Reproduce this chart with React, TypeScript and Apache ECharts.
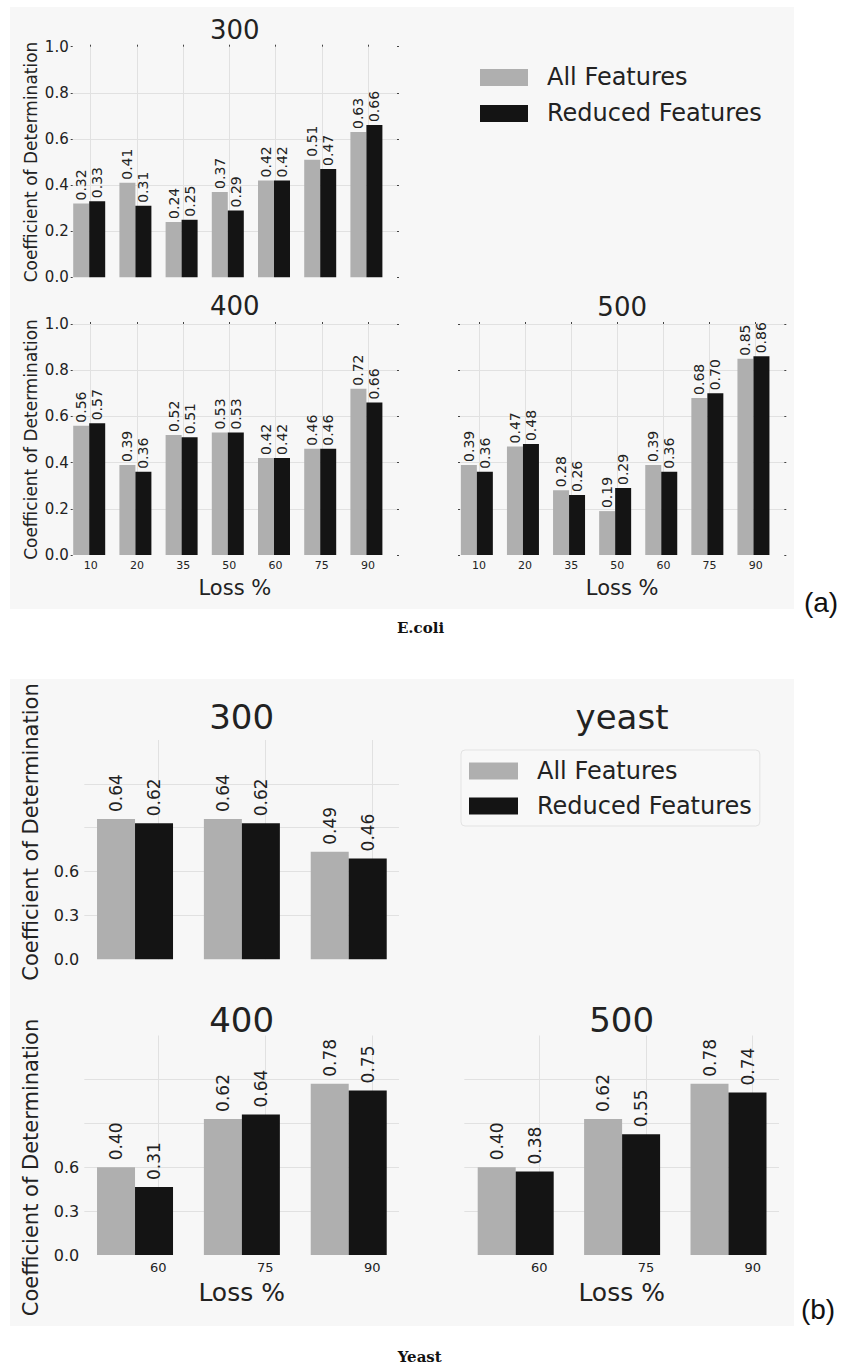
import React, { useEffect, useRef } from 'react';
import * as echarts from 'echarts';

// ---------- data ----------
const seriesNames = ['All Features', 'Reduced Features'];

const ecoliCategories = ['10', '20', '35', '50', '60', '75', '90'];
const ecoli300All = [0.32, 0.41, 0.24, 0.37, 0.42, 0.51, 0.63];
const ecoli300Reduced = [0.33, 0.31, 0.25, 0.29, 0.42, 0.47, 0.66];
const ecoli400All = [0.56, 0.39, 0.52, 0.53, 0.42, 0.46, 0.72];
const ecoli400Reduced = [0.57, 0.36, 0.51, 0.53, 0.42, 0.46, 0.66];
const ecoli500All = [0.39, 0.47, 0.28, 0.19, 0.39, 0.68, 0.85];
const ecoli500Reduced = [0.36, 0.48, 0.26, 0.29, 0.36, 0.7, 0.86];
const ecoliYTickLabels = ['0.0', '0.2', '0.4', '0.6', '0.8', '1.0'];

const yeastCategories = ['60', '75', '90'];
const yeast300All = [0.64, 0.64, 0.49];
const yeast300Reduced = [0.62, 0.62, 0.46];
const yeast400All = [0.4, 0.62, 0.78];
const yeast400Reduced = [0.31, 0.64, 0.75];
const yeast500All = [0.4, 0.62, 0.78];
const yeast500Reduced = [0.38, 0.55, 0.74];
const yeastYTickLabels = ['0.0', '0.3', '0.6'];

// ---------- styles ----------
const FONT = 'DejaVu Sans';
const TEXT = '#222222';
const GRAY = '#afafaf';
const BLACK = '#141414';
const GRID = '#e1e1e1';
const BG = '#f7f7f7';
const YNAME = 'Coefficient of Determination';

type Panel = {
  title: string;
  cats: string[];
  all: number[];
  reduced: number[];
  frame: [number, number, number, number]; // L, T, R, B
  tick: [number, number];
  barLeft: number;
  band: number;
  kind: 'ecoli' | 'yeast';
  yLabels: boolean;
  xLabels: boolean;
  yName: boolean;
  maxLine: boolean;
  titleY: number;
};

const panels: Panel[] = [
  { title: '300', cats: ecoliCategories, all: ecoli300All, reduced: ecoli300Reduced,
    frame: [72.7, 46.7, 397, 277.3], tick: [90.7, 368], barLeft: 66.1, band: 46.2,
    kind: 'ecoli', yLabels: true, xLabels: false, yName: true, maxLine: false, titleY: 30 },
  { title: '400', cats: ecoliCategories, all: ecoli400All, reduced: ecoli400Reduced,
    frame: [72.7, 324, 397, 555], tick: [90.7, 368], barLeft: 66.1, band: 46.2,
    kind: 'ecoli', yLabels: true, xLabels: true, yName: true, maxLine: true, titleY: 306 },
  { title: '500', cats: ecoliCategories, all: ecoli500All, reduced: ecoli500Reduced,
    frame: [460, 324, 784.3, 555], tick: [479, 755.7], barLeft: 453.8, band: 46.1,
    kind: 'ecoli', yLabels: false, xLabels: true, yName: false, maxLine: true, titleY: 306.5 },
  { title: '300', cats: yeastCategories, all: yeast300All, reduced: yeast300Reduced,
    frame: [84.3, 740, 399, 959.3], tick: [158.3, 372.3], barLeft: 81.6, band: 106.85,
    kind: 'yeast', yLabels: true, xLabels: false, yName: false, maxLine: false, titleY: 716.7 },
  { title: '400', cats: yeastCategories, all: yeast400All, reduced: yeast400Reduced,
    frame: [84.3, 1035.5, 399, 1255], tick: [158.3, 372.3], barLeft: 81.6, band: 106.85,
    kind: 'yeast', yLabels: true, xLabels: true, yName: false, maxLine: false, titleY: 1020 },
  { title: '500', cats: yeastCategories, all: yeast500All, reduced: yeast500Reduced,
    frame: [464.3, 1035.5, 779, 1255], tick: [539.3, 752.7], barLeft: 462.5, band: 106.4,
    kind: 'yeast', yLabels: false, xLabels: true, yName: false, maxLine: false, titleY: 1020 },
];

function buildOption() {
  const grid: any[] = [];
  const xAxis: any[] = [];
  const yAxis: any[] = [];
  const series: any[] = [];
  const title: any[] = [];

  panels.forEach((p) => {
    const [L, T, R, B] = p.frame;
    const ec = p.kind === 'ecoli';
    const tickLabels = ec ? ecoliYTickLabels : yeastYTickLabels;

    // frame grid: horizontal grid lines, y labels, axis names
    const gF = grid.length;
    grid.push({ left: L, top: T, width: R - L, height: B - T });
    xAxis.push({
      gridIndex: gF, type: 'value', min: 0, max: 1,
      axisLine: { show: false }, axisTick: { show: false }, axisLabel: { show: false },
      splitLine: { show: false },
      name: p.xLabels ? 'Loss %' : '', nameLocation: 'middle', nameGap: ec ? 22 : 25,
      nameTextStyle: { fontSize: ec ? 21 : 25, color: TEXT, fontFamily: FONT },
    });
    yAxis.push({
      gridIndex: gF, type: 'value', min: 0, max: 1, interval: 0.2,
      axisLine: { show: false },
      axisTick: { show: ec, length: 2, lineStyle: { color: '#444' } },
      axisLabel: {
        show: p.yLabels, fontSize: ec ? 15 : 16, color: TEXT, fontFamily: FONT, margin: ec ? 4 : 5,
        formatter: (_v: number, i: number) => tickLabels[i] ?? '',
      },
      splitLine: { show: true, showMinLine: false, showMaxLine: p.maxLine, lineStyle: { color: GRID, width: 1 } },
      name: p.yName ? YNAME : '', nameLocation: 'middle', nameGap: 33,
      nameTextStyle: { fontSize: 17, color: TEXT, fontFamily: FONT },
    });
    if (ec) {
      yAxis.push({
        gridIndex: gF, type: 'value', position: 'right', min: 0, max: 1, interval: 0.2,
        axisLine: { show: false }, axisLabel: { show: false }, splitLine: { show: false },
        axisTick: { show: true, length: 2, lineStyle: { color: '#444' } },
      });
    }

    // tick grid: vertical grid lines and x labels
    const gT = grid.length;
    grid.push({ left: p.tick[0], top: T, width: p.tick[1] - p.tick[0], height: B - T });
    xAxis.push({
      gridIndex: gT, type: 'category', boundaryGap: false, data: p.cats,
      axisLine: { show: false }, axisTick: { show: false },
      axisLabel: { show: p.xLabels, interval: 0, fontSize: ec ? 11 : 13, color: TEXT, fontFamily: FONT, margin: ec ? 4.5 : 6 },
      splitLine: { show: true, interval: 0, lineStyle: { color: GRID, width: 1 } },
    });
    if (ec) {
      xAxis.push({
        gridIndex: gT, type: 'category', position: 'top', boundaryGap: false, data: p.cats,
        axisLine: { show: false }, axisLabel: { show: false }, splitLine: { show: false },
        axisTick: { show: true, length: 2, interval: 0, lineStyle: { color: '#444' } },
      });
    }
    yAxis.push({ gridIndex: gT, type: 'value', min: 0, max: 1, show: false });

    // bar grid
    const gB = grid.length;
    grid.push({ left: p.barLeft, top: T, width: p.band * p.cats.length, height: B - T });
    const xb = xAxis.length;
    xAxis.push({ gridIndex: gB, type: 'category', data: p.cats, show: false });
    const yb = yAxis.length;
    yAxis.push({ gridIndex: gB, type: 'value', min: 0, max: 1, show: false });

    const label = {
      show: true, position: 'top', distance: ec ? 3 : 7, rotate: 90, align: 'left', verticalAlign: 'middle',
      fontSize: ec ? 14 : 17, color: TEXT, fontFamily: FONT,
      formatter: (d: any) => Number(d.value).toFixed(2),
    };
    const bw = ec ? 16 : 38;
    series.push({
      name: seriesNames[0], type: 'bar', xAxisIndex: xb, yAxisIndex: yb, data: p.all,
      barWidth: bw, barGap: '0%', itemStyle: { color: GRAY }, label,
    });
    series.push({
      name: seriesNames[1], type: 'bar', xAxisIndex: xb, yAxisIndex: yb, data: p.reduced,
      barWidth: bw, barGap: '0%', itemStyle: { color: BLACK }, label,
    });

    title.push({
      text: p.title, left: (L + R) / 2, top: p.titleY, textAlign: 'center', textVerticalAlign: 'middle',
      padding: 0, textStyle: { fontSize: ec ? 26 : 34, fontWeight: 'normal', color: TEXT, fontFamily: FONT },
    });
  });

  title.push({
    text: 'yeast', left: 622, top: 717, textAlign: 'center', textVerticalAlign: 'middle', padding: 0,
    textStyle: { fontSize: 34, fontWeight: 'normal', color: TEXT, fontFamily: FONT },
  });
  title.push({
    text: '(a)', left: 821, top: 602, textAlign: 'center', textVerticalAlign: 'middle', padding: 0,
    textStyle: { fontSize: 28, fontWeight: 'normal', color: '#111', fontFamily: 'Liberation Sans' },
  });
  title.push({
    text: '(b)', left: 818, top: 1309, textAlign: 'center', textVerticalAlign: 'middle', padding: 0,
    textStyle: { fontSize: 28, fontWeight: 'normal', color: '#111', fontFamily: 'Liberation Sans' },
  });
  title.push({
    text: 'E.coli', left: 420.5, top: 628, textAlign: 'center', textVerticalAlign: 'middle', padding: 0,
    textStyle: { fontSize: 15, fontWeight: 'bold', color: '#111', fontFamily: 'DejaVu Serif' },
  });
  title.push({
    text: 'Yeast', left: 419.7, top: 1356.7, textAlign: 'center', textVerticalAlign: 'middle', padding: 0,
    textStyle: { fontSize: 15, fontWeight: 'bold', color: '#111', fontFamily: 'DejaVu Serif' },
  });

  const legendText = { fontSize: 24, lineHeight: 24, color: TEXT, fontFamily: FONT, padding: [0, 0, 0, 14] };

  return {
    animation: false,
    backgroundColor: '#ffffff',
    title,
    legend: [
      {
        data: seriesNames, orient: 'vertical', left: 480, top: 65.4, itemWidth: 48, itemHeight: 17,
        itemGap: 12, icon: 'rect', padding: 0, textStyle: legendText, selectedMode: false,
      },
      {
        data: seriesNames, orient: 'vertical', left: 461, top: 750, itemWidth: 49, itemHeight: 17,
        itemGap: 11, icon: 'rect', padding: [9, 8, 8, 8], borderColor: '#e3e3e3', borderWidth: 1,
        borderRadius: 4, backgroundColor: '#f8f8f8', textStyle: legendText, selectedMode: false,
      },
    ],
    graphic: [
      { type: 'rect', z: -10, shape: { x: 10, y: 7, width: 784, height: 602 }, style: { fill: BG } },
      { type: 'rect', z: -10, shape: { x: 10, y: 679, width: 784, height: 647 }, style: { fill: BG } },
      {
        type: 'text', x: 31, y: 832, rotation: Math.PI / 2,
        style: { text: YNAME, fontSize: 21, fill: TEXT, fontFamily: FONT, align: 'center', verticalAlign: 'middle' },
      },
      {
        type: 'text', x: 31, y: 1167.5, rotation: Math.PI / 2,
        style: { text: YNAME, fontSize: 21, fill: TEXT, fontFamily: FONT, align: 'center', verticalAlign: 'middle' },
      },
    ],
    grid,
    xAxis,
    yAxis,
    series,
  };
}

export default function App() {
  const ref = useRef<HTMLDivElement>(null);
  useEffect(() => {
    if (!ref.current) return;
    const chart = echarts.init(ref.current, null, { renderer: 'svg' });
    chart.setOption(buildOption() as any);
    return () => chart.dispose();
  }, []);
  return (
    <div
      ref={ref}
      style={{ position: 'absolute', left: 0, top: 0, width: 856, height: 1367, background: '#fff' }}
    />
  );
}
